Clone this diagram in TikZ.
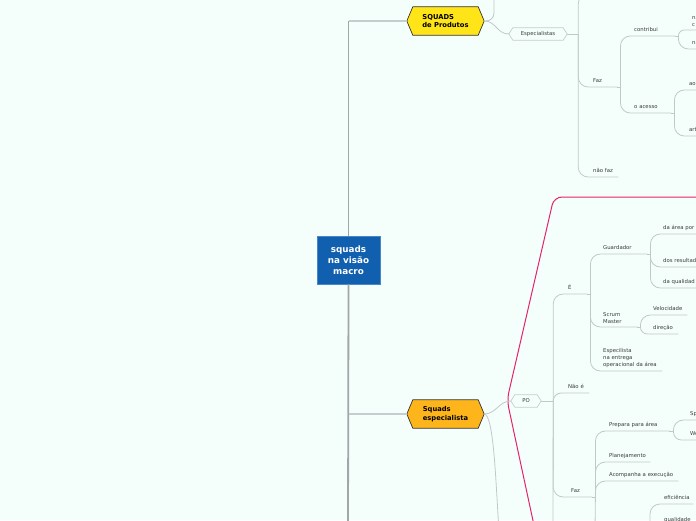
\documentclass[tikz,border=0pt]{standalone}
\usepackage{fontspec}
\setmainfont{DejaVu Sans}
\usetikzlibrary{calc}
\definecolor{bgc}{HTML}{F4FFFC}
\definecolor{lc}{HTML}{C2C8C8}
\definecolor{trunkc}{HTML}{A2A6A6}
\definecolor{brc}{HTML}{C4CECE}
\definecolor{txt}{HTML}{3A3A3A}
\definecolor{pinkc}{HTML}{E5226B}
\definecolor{yel}{HTML}{FFE417}
\definecolor{org}{HTML}{FDB51B}
\definecolor{hexedge}{HTML}{333333}
\definecolor{hexgray}{HTML}{C6CCCC}
\definecolor{rootblue}{HTML}{1160AF}
\definecolor{rootedge}{HTML}{4A86C6}
\pgfdeclarelayer{back}
\pgfsetlayers{back,main}
\begin{document}
\begin{tikzpicture}[x=1pt,y=-1pt,
  conn/.style={draw=lc, line width=0.8pt, rounded corners=10pt},
  trunk/.style={draw=trunkc, line width=1.8pt},
  br0/.style={draw=brc, line width=1.1pt},
  pinkline/.style={draw=pinkc, line width=1pt, rounded corners=8pt},
  lbl/.style={anchor=south west, inner xsep=0pt, inner ysep=4pt, text depth=0pt, align=left, text width=#1, font=\fontsize{5.35}{7}\selectfont, text=txt},
  mlbl/.style={anchor=south west, inner xsep=0pt, inner ysep=3pt, align=left, text width=#1, font=\fontsize{5.35}{7}\selectfont, text=txt},
  rootbox/.style={fill=rootblue, draw=rootedge, line width=0.5pt, minimum width=63pt, minimum height=48pt, inner sep=0pt, text=white, align=center, font=\bfseries\fontsize{8.8}{11}\selectfont},
  hexbig/.style={minimum width=77pt, minimum height=28pt, inner sep=0pt, align=left, text=black, font=\bfseries\fontsize{6.75}{8.5}\selectfont},
  hexsmall/.style={minimum height=12pt, inner sep=0pt, text=txt, font=\fontsize{5.35}{6}\selectfont}
]
\begin{pgfonlayer}{back}
\fill[bgc] (0,0) rectangle (696,520);
\end{pgfonlayer}
\useasboundingbox (0,0) rectangle (696,520);
\clip (0,0) rectangle (696,520);

% free ends (off the picture)
\coordinate (trunkEnd) at (348,530);
\coordinate (sqUp) at (494,-10);
\coordinate (espUp) at (620,-6);
\coordinate (poDown) at (553,530);
\coordinate (faz2Down) at (595,530);
\coordinate (seDown) at (499,530);
\coordinate (effB) at (650,545);
\coordinate (pinkA) at (710,197);
\coordinate (pinkB) at (535,530);

% main nodes
\node[rootbox] (root) at (348.5,260) {squads\\na visão\\macro};
\node[hexbig] (sq) at (445.5,21) {SQUADS\\de Produtos};
\node[hexbig] (se) at (445.5,414) {Squads\\especialista};
\node[hexsmall, minimum width=58pt] (esp) at (538,34) {Especialistas};
\node[hexsmall, minimum width=30pt] (po) at (526,401) {PO};

\begin{pgfonlayer}{back}
\filldraw[fill=yel, draw=hexedge, line width=0.7pt] (sq.west) -- ([xshift=6pt]sq.north west) -- ([xshift=-6pt]sq.north east) -- (sq.east) -- ([xshift=-6pt]sq.south east) -- ([xshift=6pt]sq.south west) -- cycle;
\filldraw[fill=org, draw=hexedge, line width=0.7pt] (se.west) -- ([xshift=6pt]se.north west) -- ([xshift=-6pt]se.north east) -- (se.east) -- ([xshift=-6pt]se.south east) -- ([xshift=6pt]se.south west) -- cycle;
\filldraw[fill=bgc, draw=hexgray, line width=0.7pt] (esp.west) -- ([xshift=4pt]esp.north west) -- ([xshift=-4pt]esp.north east) -- (esp.east) -- ([xshift=-4pt]esp.south east) -- ([xshift=4pt]esp.south west) -- cycle;
\filldraw[fill=bgc, draw=hexgray, line width=0.7pt] (po.west) -- ([xshift=4pt]po.north west) -- ([xshift=-4pt]po.north east) -- (po.east) -- ([xshift=-4pt]po.south east) -- ([xshift=4pt]po.south west) -- cycle;
\end{pgfonlayer}

% labels, upper branch
\node[lbl=24pt] (faz1) at (593,87) {Faz};
\node[lbl=25pt] (naofaz) at (593,177) {não faz};
\node[lbl=41pt] (contribui) at (634,36) {contribui};
\node[lbl=37pt] (oacesso) at (634,113) {o acesso};
\node[mlbl=28pt] (nac) at (692,30) {na\\c};
\node[lbl=28pt] (na2) at (692,49) {na};
\node[lbl=30pt] (ao) at (689,90) {ao};
\node[lbl=30pt] (art) at (689,136) {art};

% labels, lower branch
\node[lbl=19pt] (e) at (568,294) {É};
\node[lbl=21pt] (naoe) at (568,393) {Não é};
\node[lbl=21pt] (faz2) at (571,497) {Faz};
\node[lbl=44pt] (guard) at (603,254) {Guardador};
\node[mlbl=34pt] (scrum) at (603,327) {Scrum\\Master};
\node[mlbl=59pt] (espec) at (603,371) {Especilista\\na entrega\\operacional da área};
\node[lbl=50pt] (area) at (663,234) {da área por};
\node[lbl=50pt] (result) at (663,267) {dos resultad};
\node[lbl=50pt] (qualid) at (663,288) {da qualidad};
\node[lbl=34pt] (veloc) at (653,315) {Velocidade};
\node[lbl=25pt] (direc) at (653,334) {direção};
\node[lbl=60pt] (prep) at (609,431) {Prepara para área};
\node[lbl=41pt] (plan) at (609,462) {Planejamento};
\node[lbl=69pt] (acomp) at (609,481) {Acompanha a execução};
\node[lbl=29pt] (efic) at (664,504) {eficiência};
\node[lbl=30pt] (qual) at (664,526) {qualidade};
\node[lbl=20pt] (sp) at (690,420) {Sp};
\node[lbl=20pt] (we) at (690,440) {We};

% trunk
\draw[trunk] (root.north) -- (root.north |- sq.west);
\draw[br0] (root.north |- sq.west) -- (sq.west);
\draw[trunk] (root.south) -- (trunkEnd);
\draw[br0] (root.south |- se.west) -- (se.west);

% pink relation line
\draw[pinkline] (pinkA) -- (554,197) -- (507,400) -- (pinkB);

% SQUADS de Produtos
\draw[conn, rounded corners=8pt] (sq.east) -| (sqUp);
\draw[conn] (sq.east) .. controls +(12,0) and +(-12,0) .. (esp.west);
% Especialistas
\draw[conn] (esp.east) -- ++(11,0);
\draw[conn] ([xshift=11pt]esp.east) |- (espUp);
\draw[conn] ([xshift=11pt]esp.east) |- (faz1.south east);
\draw[conn] ([xshift=11pt]esp.east) |- (naofaz.south east);
% Faz (upper)
\draw[conn] (faz1.south east) -- ++(3,0);
\draw[conn] ([xshift=3pt]faz1.south east) |- (contribui.south east);
\draw[conn] ([xshift=3pt]faz1.south east) |- (oacesso.south east);
% contribui
\draw[conn] (contribui.south east) -- ++(3,0);
\draw[conn, rounded corners=6pt] ([xshift=3pt]contribui.south east) |- (nac.south east);
\draw[conn] ([xshift=3pt]contribui.south east) |- (na2.south east);
% o acesso
\draw[conn] (oacesso.south east) -- ++(3,0);
\draw[conn] ([xshift=3pt]oacesso.south east) |- (ao.south east);
\draw[conn] ([xshift=3pt]oacesso.south east) |- (art.south east);

% Squads especialista
\draw[conn] (se.east) .. controls +(12,0) and +(-12,0) .. (po.west);
\draw[conn] (se.east) .. controls +(10,0) and +(-3,-40) .. (seDown);
% PO
\draw[conn] (po.east) -- ++(12,0);
\draw[conn] ([xshift=12pt]po.east) |- (e.south east);
\draw[conn, rounded corners=8pt] ([xshift=12pt]po.east) |- (naoe.south east);
\draw[conn] ([xshift=12pt]po.east) |- (faz2.south east);
\draw[conn] ([xshift=12pt]po.east) -- (poDown);
% É
\draw[conn] (e.south east) -- ++(3,0);
\draw[conn] ([xshift=3pt]e.south east) |- (guard.south east);
\draw[conn] ([xshift=3pt]e.south east) |- (scrum.south east);
\draw[conn] ([xshift=3pt]e.south east) |- (espec.south east);
% Guardador
\draw[conn] (guard.south east) -- ++(3,0);
\draw[conn] ([xshift=3pt]guard.south east) |- (area.south east);
\draw[conn] ([xshift=3pt]guard.south east) |- (result.south east);
\draw[conn] ([xshift=3pt]guard.south east) |- (qualid.south east);
% Scrum Master
\draw[conn] (scrum.south east) -- ++(3,0);
\draw[conn] ([xshift=3pt]scrum.south east) |- (veloc.south east);
\draw[conn, rounded corners=7pt] ([xshift=3pt]scrum.south east) |- (direc.south east);
% Faz (lower)
\draw[conn] (faz2.south east) -- ++(3,0);
\draw[conn] ([xshift=3pt]faz2.south east) |- (prep.south east);
\draw[conn] ([xshift=3pt]faz2.south east) |- (plan.south east);
\draw[conn] ([xshift=3pt]faz2.south east) |- (acomp.south east);
\draw[conn] ([xshift=3pt]faz2.south east) -- (faz2Down);
% Prepara para área
\draw[conn] (prep.south east) -- ++(4,0);
\draw[conn] ([xshift=4pt]prep.south east) |- (sp.south east);
\draw[conn, rounded corners=8pt] ([xshift=4pt]prep.south east) |- (we.south east);
% eficiência / qualidade
\draw[conn] (effB) |- (efic.south east);
\draw[conn] (effB) |- (qual.south east);
\end{tikzpicture}
\end{document}
